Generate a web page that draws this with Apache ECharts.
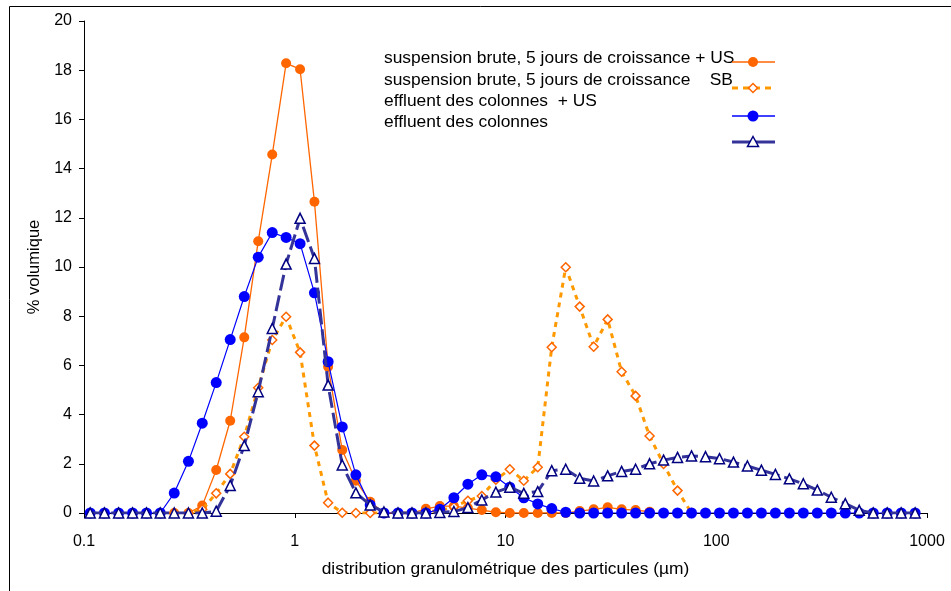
<!DOCTYPE html>
<html><head><meta charset="utf-8">
<script src="https://cdn.jsdelivr.net/npm/echarts@6/dist/echarts.min.js"></script>
<style>html,body{margin:0;padding:0;background:#fff}#c{width:951px;height:591px}</style>
</head><body><div id="c"></div>
<script>
// Particle size classes (µm)
const sizes = [0.107,0.125,0.146,0.170,0.198,0.230,0.268,0.313,0.364,0.424,0.494,0.576,0.671,0.782,0.910,
1.06,1.24,1.44,1.68,1.95,2.28,2.65,3.09,3.60,4.19,4.88,5.69,6.63,7.72,9.00,
10.48,12.21,14.22,16.57,19.31,22.49,26.20,30.53,35.56,41.43,48.27,56.23,65.51,76.32,88.91,
103.58,120.67,140.58,163.77,190.80,222.28,258.95,301.68,351.46,409.45,477.01,555.71,647.41,754.23,878.67];

const seriesNames = [
  'suspension brute, 5 jours de croissance + US',
  'suspension brute, 5 jours de croissance    SB',
  'effluent des colonnes  + US',
  'effluent des colonnes'
];

const suspUS = [null,null,null,null,null,null,0,0,0.3,1.75,3.75,7.14,11.05,14.57,18.28,
18.04,12.65,5.95,2.56,1.31,0.46,0,0,0,0.17,0.28,0.28,0.2,0.12,0.03,
0,0,0,0,0,0.08,0.15,0.23,0.15,0.12,0.05,null,null,null,null,
null,null,null,null,null,null,null,null,null,null,null,null,null,null,null];

const suspSB = [null,null,null,null,null,null,0,0,0.15,0.8,1.59,3.1,5.09,7.03,7.98,
6.53,2.74,0.42,0.01,0,0,0,0,0,0.05,0.1,0.25,0.5,0.69,1.35,
1.78,1.31,1.86,6.74,9.99,8.39,6.76,7.87,5.74,4.76,3.13,1.99,0.91,0,null,
null,null,null,null,null,null,null,null,null,null,null,null,null,null,null];

const efflUS = [0,0,0,0,0,0,0.81,2.1,3.65,5.3,7.05,8.8,10.4,11.4,11.2,
10.95,8.95,6.15,3.5,1.55,0.33,0,0,0,0,0.15,0.62,1.17,1.55,1.47,
1.05,0.62,0.37,0.18,0.03,0,0,0,0,0,0,0,0,0,0,
0,0,0,0,0,0,0,0,0,0,0,0,0,0,0];

const effl = [0,0,0,0,0,0,0,0,0,0.07,1.12,2.74,4.93,7.5,10.12,
11.98,10.35,5.2,1.95,0.82,0.33,0.04,0,0,0,0.02,0.06,0.22,0.53,0.85,
1.05,0.8,0.87,1.72,1.78,1.41,1.3,1.51,1.69,1.78,2.0,2.15,2.26,2.32,2.29,
2.21,2.07,1.91,1.74,1.57,1.39,1.19,0.93,0.64,0.38,0.11,0,0,0,0];

const xTickLabels = ['0.1','1','10','100','1000'];
const yTicks = [0,2,4,6,8,10,12,14,16,18,20];

const FONT = '"Liberation Sans", Arial, sans-serif';
const pairs = arr => sizes.map((s,i) => [s, arr[i]]);

const chart = echarts.init(document.getElementById('c'), null, {renderer:'canvas'});

const legendRows = [
  {ty:60, my:62, kind:'orange'},
  {ty:82, my:88, kind:'sb'},
  {ty:103, my:116, kind:'blue'},
  {ty:124, my:142, kind:'navy'}
];
const graphics = [
  {type:'rect', shape:{x:9.5,y:6.5,width:1000,height:1000}, style:{fill:'none',stroke:'#000',lineWidth:1}, z:0, silent:true}
];
legendRows.forEach((r,k) => {
  graphics.push({type:'text', left:384, top:r.ty-10, style:{text:seriesNames[k], font:'17.4px '+FONT, fill:'#000'}, z:10});
  let col, dash, lw;
  if (r.kind==='orange'){col='#FF6600';dash=null;lw=1.3;}
  else if (r.kind==='sb'){col='#FF9900';dash=[6,5];lw=3;}
  else if (r.kind==='blue'){col='#0000FF';dash=null;lw=1.3;}
  else {col='#333399';dash=null;lw=3;}
  graphics.push({type:'line', shape:{x1:732,y1:r.my,x2:775,y2:r.my}, style:{stroke:col,lineWidth:lw,lineDash:dash}, z:10});
  if (r.kind==='orange') graphics.push({type:'circle', shape:{cx:753,cy:r.my,r:5}, style:{fill:'#FF6600'}, z:11});
  if (r.kind==='blue') graphics.push({type:'circle', shape:{cx:753,cy:r.my,r:5.5}, style:{fill:'#0000FF'}, z:11});
  if (r.kind==='sb') graphics.push({type:'polygon', shape:{points:[[753,r.my-4.5],[757.5,r.my],[753,r.my+4.5],[748.5,r.my]]}, style:{fill:'#fff',stroke:'#FF6600',lineWidth:1.5}, z:11});
  if (r.kind==='navy') graphics.push({type:'polygon', shape:{points:[[753,r.my-5.5],[758.5,r.my+4.5],[747.5,r.my+4.5]]}, style:{fill:'#fff',stroke:'#000080',lineWidth:1.5}, z:11});
});

chart.setOption({
  animation:false,
  backgroundColor:'#fff',
  textStyle:{fontFamily:FONT},
  grid:{left:84, right:24, top:21, bottom:78, containLabel:false},
  xAxis:{
    type:'log', logBase:10, min:0.1, max:1000,
    name:'distribution granulométrique des particules (µm)',
    nameLocation:'middle', nameGap:48,
    nameTextStyle:{fontSize:17.4, color:'#000', fontFamily:FONT},
    axisLine:{show:true, onZero:false, lineStyle:{color:'#000', width:1}},
    axisTick:{show:true, inside:false, length:5, lineStyle:{color:'#000'}},
    minorTick:{show:false},
    splitLine:{show:false},
    axisLabel:{fontSize:16, color:'#000', margin:21, fontFamily:FONT,
      formatter: v => xTickLabels[Math.round(Math.log10(v))+1]}
  },
  yAxis:{
    type:'value', min:yTicks[0], max:yTicks[yTicks.length-1], interval:2,
    name:'% volumique', nameLocation:'middle', nameGap:41, nameRotate:90,
    nameTextStyle:{fontSize:16.5, color:'#000', fontFamily:FONT},
    axisLine:{show:true, lineStyle:{color:'#000', width:1}},
    axisTick:{show:true, inside:false, length:5, lineStyle:{color:'#000'}},
    splitLine:{show:false},
    axisLabel:{fontSize:16, color:'#000', margin:12, fontFamily:FONT}
  },
  graphic: graphics,
  series:[
    {name:seriesNames[0], type:'line', data:pairs(suspUS), z:2,
     symbol:'circle', symbolSize:10, showAllSymbol:true,
     lineStyle:{color:'#FF6600', width:1.3}, itemStyle:{color:'#FF6600'}},
    {name:seriesNames[1], type:'line', data:pairs(suspSB), z:3,
     symbol:'diamond', symbolSize:9, showAllSymbol:true,
     lineStyle:{color:'#FF9900', width:3, type:[5,5]},
     itemStyle:{color:'#fff', borderColor:'#FF6600', borderWidth:1.5}},
    {name:seriesNames[2], type:'line', data:pairs(efflUS), z:4,
     symbol:'circle', symbolSize:11, showAllSymbol:true,
     lineStyle:{color:'#0000FF', width:1.2}, itemStyle:{color:'#0000FF'}},
    {name:seriesNames[3], type:'line', data:pairs(effl), z:5,
     symbol:'triangle', symbolSize:10, showAllSymbol:true,
     lineStyle:{color:'#333399', width:3, type:[16,5]},
     itemStyle:{color:'#fff', borderColor:'#000080', borderWidth:1.5}}
  ]
});
</script></body></html>
